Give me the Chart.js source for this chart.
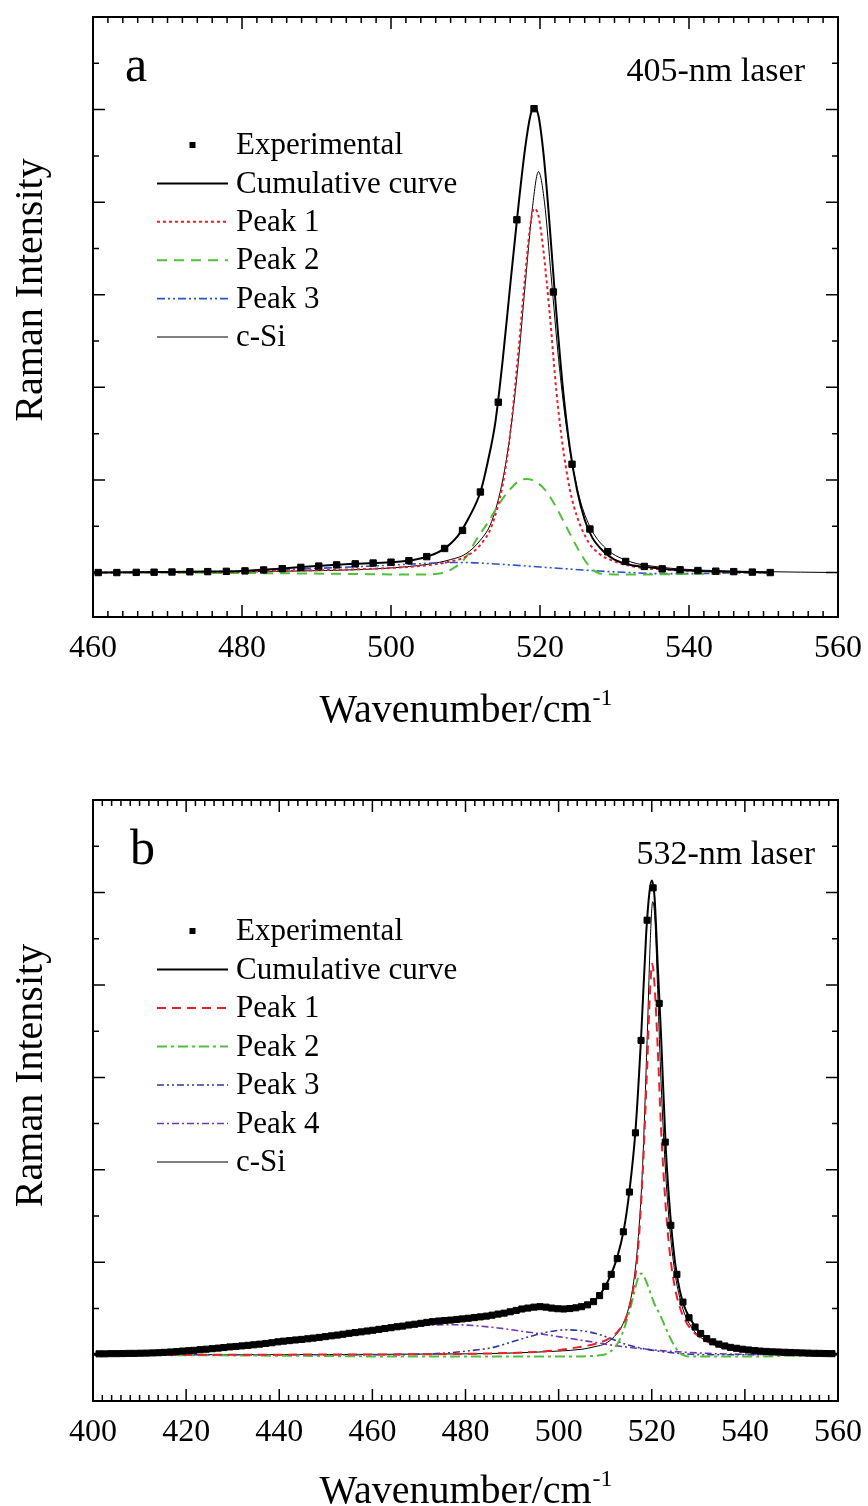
<!DOCTYPE html>
<html>
<head>
<meta charset="utf-8">
<title>Raman spectra a/b</title>
<script src="https://cdn.jsdelivr.net/npm/chart.js@4.4.1/dist/chart.umd.min.js"></script>
<style>
  html, body { margin: 0; padding: 0; background: #fff; }
  #wrap { position: relative; width: 868px; height: 1506px; }
  canvas { position: absolute; left: 0; }
  #chartA { top: 0; }
  #chartB { top: 760px; }
</style>
</head>
<body>
<div id="wrap">
  <canvas id="chartA" width="868" height="745"></canvas>
  <canvas id="chartB" width="868" height="746"></canvas>
</div>
<script>
// ---------- panel a : 405-nm laser ----------
const ticksA = [460, 480, 500, 520, 540, 560];
const labelsA = ['Experimental', 'Cumulative curve', 'Peak 1', 'Peak 2', 'Peak 3', 'c-Si'];

const expXA = [460.7, 463.2, 465.8, 468.2, 470.6, 473.0, 475.4, 477.9, 480.4, 482.9, 485.4, 487.9, 490.3, 492.7,
  495.2, 497.6, 500.0, 502.4, 504.8, 507.2, 509.6, 512.0, 514.4, 516.9, 519.2, 521.8, 524.3, 526.7, 529.1, 531.5,
  534.0, 536.4, 538.8, 541.2, 543.6, 546.0, 548.5, 550.9];
const expYA = [0.0, 0.0, 0.002, 0.004, 0.006, 0.008, 0.01, 0.013, 0.018, 0.028, 0.042, 0.056, 0.07, 0.083,
  0.094, 0.103, 0.112, 0.128, 0.172, 0.26, 0.455, 0.87, 1.84, 3.81, 5.01, 3.03, 1.17, 0.47, 0.225, 0.12,
  0.066, 0.04, 0.03, 0.022, 0.015, 0.01, 0.005, 0.0];

const cumXA = [460, 465, 470, 475, 480, 485, 490, 495, 500, 503, 505, 507, 509, 510.5, 512, 513, 514, 515, 516, 517,
  518, 518.7, 519.2, 519.8, 520.5, 521.2, 522, 523, 524, 525, 526, 527, 528.5, 530, 532, 534, 537, 540, 545, 551];
const cumYA = [0, 0.002, 0.006, 0.011, 0.018, 0.042, 0.07, 0.094, 0.112, 0.135, 0.176, 0.25, 0.40, 0.6, 0.87, 1.2,
  1.62, 2.3, 3.1, 3.88, 4.58, 4.93, 5.03, 4.93, 4.5, 3.85, 3.0, 2.05, 1.35, 0.88, 0.57, 0.38, 0.23, 0.14, 0.085,
  0.062, 0.037, 0.022, 0.01, 0.0];

const p1XA = [460, 480, 490, 500, 505, 508, 510, 512, 513.5, 515, 516, 517, 518, 518.7, 519.2, 519.8, 520.5, 521.3,
  522.2, 523, 524, 525, 526.5, 528, 530, 533, 537, 542, 551];
const p1YA = [0, 0.01, 0.025, 0.05, 0.08, 0.12, 0.17, 0.3, 0.5, 0.95, 1.5, 2.3, 3.2, 3.75, 3.93, 3.85, 3.45, 2.8,
  1.96, 1.4, 0.9, 0.6, 0.33, 0.2, 0.12, 0.06, 0.03, 0.015, 0.0];

const p2XA = [460, 480, 495, 500, 504, 506, 508, 510, 511.5, 513, 514.5, 516, 517.2, 518.2, 519.2, 520.5, 522, 523.5,
  525, 526.5, 528, 530, 535, 540, 551];
const p2YA = [0, -0.005, -0.015, -0.02, -0.02, -0.015, 0.03, 0.16, 0.36, 0.54, 0.74, 0.9, 0.99, 1.01, 0.99, 0.91,
  0.73, 0.5, 0.27, 0.08, -0.01, -0.02, -0.02, -0.015, 0.0];

const p3XA = [460, 470, 480, 485, 490, 495, 500, 505, 508, 510, 513, 516, 520, 524, 528, 532, 536, 540, 545, 551];
const p3YA = [0.0, 0.004, 0.015, 0.028, 0.045, 0.062, 0.08, 0.1, 0.108, 0.108, 0.098, 0.083, 0.06, 0.038, 0.016,
  0.0, -0.012, -0.012, -0.005, 0.0];

const siXA = [460, 480, 495, 500, 505, 508, 510, 512, 513.5, 515, 516, 517, 518, 519, 519.8, 520.6, 521.5, 522.5,
  523.5, 524.5, 525.5, 527, 529, 532, 536, 542, 550, 560];
const siYA = [0.0, 0.01, 0.03, 0.05, 0.09, 0.14, 0.2, 0.35, 0.55, 1.0, 1.5, 2.2, 3.1, 3.95, 4.33, 4.0, 3.2, 2.3,
  1.6, 1.1, 0.75, 0.45, 0.25, 0.12, 0.06, 0.025, 0.01, 0.0];

// ---------- panel b : 532-nm laser ----------
const ticksB = [400, 420, 440, 460, 480, 500, 520, 540, 560];
const labelsB = ['Experimental', 'Cumulative curve', 'Peak 1', 'Peak 2', 'Peak 3', 'Peak 4', 'c-Si'];

const expXB = [401.3, 402.5, 403.8, 405.1, 406.4, 407.7, 408.9, 410.2, 411.5, 412.8, 414.1, 415.3, 416.6, 417.9,
  419.2, 420.5, 421.7, 423.0, 424.3, 425.6, 426.9, 428.1, 429.4, 430.7, 432.0, 433.3, 434.5, 435.8, 437.1, 438.4,
  439.7, 440.9, 442.2, 443.5, 444.8, 446.1, 447.3, 448.6, 449.9, 451.2, 452.5, 453.7, 455.0, 456.3, 457.6, 458.9,
  460.1, 461.4, 462.7, 464.0, 465.3, 466.5, 467.8, 469.1, 470.4, 471.7, 472.9, 474.2, 475.5, 476.8, 478.1, 479.3,
  480.6, 481.9, 483.2, 484.5, 485.7, 487.0, 488.3, 489.6, 490.9, 492.1, 493.4, 494.7, 496.0, 497.3, 498.5, 499.8,
  501.1, 502.4, 503.7, 504.9, 506.2, 507.5, 508.8, 510.1, 511.3, 512.6, 513.9, 515.2, 516.5, 517.7, 519.0, 520.3,
  521.6, 522.9, 524.1, 525.4, 526.7, 528.0, 529.3, 530.5, 531.8, 533.1, 534.4, 535.7, 536.9, 538.2, 539.5, 540.8,
  542.1, 543.3, 544.6, 545.9, 547.2, 548.5, 549.7, 551.0, 552.3, 553.6, 554.9, 556.1, 557.4, 558.7];
const expYB = [0.01, 0.01, 0.012, 0.012, 0.013, 0.015, 0.015, 0.017, 0.018, 0.02, 0.022, 0.026, 0.03, 0.034,
  0.04, 0.044, 0.048, 0.055, 0.06, 0.066, 0.072, 0.078, 0.085, 0.09, 0.096, 0.102, 0.108, 0.115, 0.122, 0.13,
  0.14, 0.147, 0.153, 0.16, 0.166, 0.173, 0.18, 0.188, 0.196, 0.205, 0.213, 0.222, 0.232, 0.24, 0.248, 0.257,
  0.265, 0.275, 0.284, 0.293, 0.303, 0.31, 0.322, 0.33, 0.34, 0.35, 0.358, 0.365, 0.37, 0.375, 0.382, 0.388,
  0.395, 0.402, 0.41, 0.418, 0.428, 0.44, 0.45, 0.465, 0.48, 0.495, 0.505, 0.515, 0.52, 0.515, 0.505, 0.498,
  0.495, 0.5, 0.508, 0.52, 0.54, 0.575, 0.64, 0.74, 0.87, 1.04, 1.33, 1.76, 2.4, 3.4, 4.7, 5.05,
  3.8, 2.3, 1.4, 0.87, 0.57, 0.4, 0.3, 0.23, 0.175, 0.14, 0.115, 0.095, 0.08, 0.07, 0.06, 0.052,
  0.046, 0.04, 0.036, 0.032, 0.03, 0.027, 0.025, 0.022, 0.02, 0.018, 0.016, 0.015, 0.013, 0.012];

const cumXB = [400, 410, 420, 430, 440, 450, 460, 470, 480, 485, 490, 493, 496, 500, 503, 505, 507, 509, 511, 512.5,
  514, 515.2, 516.5, 517.7, 518.8, 519.5, 520.0, 520.6, 521.3, 522, 523, 524, 525, 526, 527, 528.5, 530, 532, 535,
  540, 545, 550, 555, 560];
const cumYB = [0.01, 0.017, 0.043, 0.088, 0.143, 0.197, 0.265, 0.337, 0.392, 0.422, 0.472, 0.502, 0.515, 0.497,
  0.505, 0.522, 0.565, 0.66, 0.84, 1.04, 1.35, 1.77, 2.42, 3.42, 4.55, 5.0, 5.13, 4.95, 4.2, 3.45, 2.25, 1.5, 1.0,
  0.7, 0.52, 0.37, 0.26, 0.175, 0.1, 0.055, 0.035, 0.023, 0.016, 0.01];

const p1XB = [400, 470, 480, 490, 495, 500, 504, 508, 511, 513, 514.5, 516, 517, 518, 519, 519.6, 520.1, 520.6,
  521.3, 522, 523, 524, 525, 526, 527, 528.5, 530, 532, 535, 540, 545, 550, 560];
const p1YB = [0, 0.005, 0.01, 0.02, 0.03, 0.05, 0.08, 0.12, 0.18, 0.27, 0.4, 0.7, 1.1, 1.9, 3.1, 3.9, 4.23, 4.0,
  3.3, 2.45, 1.6, 1.05, 0.72, 0.52, 0.39, 0.27, 0.2, 0.14, 0.085, 0.045, 0.028, 0.018, 0.008];

const p2XB = [400, 440, 470, 500, 508, 511, 513, 514.5, 516, 517, 517.8, 518.6, 519.5, 520.5, 521.8, 523, 524.6,
  526, 527.5, 530, 540, 550, 560];
const p2YB = [0, -0.01, -0.02, -0.02, -0.01, 0.03, 0.15, 0.35, 0.62, 0.82, 0.88, 0.82, 0.7, 0.56, 0.43, 0.29, 0.12,
  0.02, -0.015, -0.02, -0.02, -0.01, 0];

const p3XB = [400, 460, 470, 476, 482, 486, 490, 494, 498, 502, 505, 508, 511, 514, 517, 520, 523, 527, 532, 560];
const p3YB = [0, 0, 0.005, 0.02, 0.05, 0.08, 0.14, 0.2, 0.25, 0.27, 0.26, 0.23, 0.18, 0.12, 0.08, 0.05, 0.03, 0.01,
  0.0, 0];

const p4XB = [400, 410, 420, 430, 440, 450, 460, 467, 472, 477, 482, 487, 492, 497, 502, 507, 512, 517, 522, 527,
  532, 540, 550, 560];
const p4YB = [0.01, 0.017, 0.043, 0.085, 0.14, 0.195, 0.26, 0.3, 0.32, 0.325, 0.315, 0.29, 0.255, 0.22, 0.18, 0.14,
  0.1, 0.07, 0.045, 0.028, 0.015, 0.005, 0.0, 0];

const siXB = [400, 480, 500, 505, 508, 510, 512, 513.5, 515, 516, 517, 518, 519, 519.7, 520.2, 520.7, 521.3, 522,
  523, 524, 525, 526, 527, 528.5, 530, 532, 535, 540, 545, 550, 560];
const siYB = [0, 0.01, 0.04, 0.06, 0.09, 0.12, 0.2, 0.3, 0.5, 0.75, 1.2, 2.0, 3.4, 4.5, 4.9, 4.7, 3.9, 2.95, 1.95,
  1.3, 0.88, 0.62, 0.45, 0.3, 0.21, 0.14, 0.08, 0.04, 0.025, 0.015, 0.005];

// ---------- helpers ----------
const serif = '"Liberation Serif", "Times New Roman", serif';
const RED = '#e8202a', GREEN = '#52bf3c', BLUE_A = '#2a55c8', BLUE_B = '#2b3b9e', PURPLE = '#7434b4';

function pts(xs, ys) {
  return xs.map((x, i) => ({ x: x, y: ys[i] }));
}

function markers(label, xs, ys, r) {
  return {
    label: label, data: pts(xs, ys), showLine: false,
    pointStyle: 'rect', pointRadius: r, pointHoverRadius: r,
    backgroundColor: '#000', borderColor: '#000', borderWidth: 1
  };
}

function curve(label, xs, ys, color, width, dash) {
  return {
    label: label, data: pts(xs, ys), showLine: true,
    borderColor: color, borderWidth: width, borderDash: dash || [],
    pointRadius: 0, pointHoverRadius: 0, fill: false,
    cubicInterpolationMode: 'monotone'
  };
}

// inward ticks, frame, legend and in-plot texts
const decor = {
  id: 'decor',
  afterDatasetsDraw(chart, args, o) {
    const { ctx, chartArea: a } = chart;
    const x = chart.scales.x, y = chart.scales.y;
    ctx.save();
    ctx.strokeStyle = '#000';
    ctx.lineWidth = 1.5;
    ctx.beginPath();
    x.ticks.forEach(t => {
      const px = x.getPixelForValue(t.value);
      const len = t.value % 20 === 0 ? 12 : 6;
      ctx.moveTo(px, a.bottom); ctx.lineTo(px, a.bottom - len);
      ctx.moveTo(px, a.top); ctx.lineTo(px, a.top + len);
    });
    y.ticks.forEach(t => {
      if (t.value < 0) return;
      const py = y.getPixelForValue(t.value);
      const len = Number.isInteger(t.value) ? 12 : 6;
      ctx.moveTo(a.left, py); ctx.lineTo(a.left + len, py);
      ctx.moveTo(a.right, py); ctx.lineTo(a.right - len, py);
    });
    ctx.stroke();
    ctx.lineWidth = 2;
    ctx.strokeRect(a.left, a.top, a.right - a.left, a.bottom - a.top);

    // legend
    ctx.font = '31px ' + serif;
    ctx.textBaseline = 'middle';
    ctx.textAlign = 'left';
    ctx.fillStyle = '#000';
    chart.data.datasets.forEach((ds, i) => {
      const ry = a.top + o.legendTop + i * o.rowGap;
      const x0 = a.left + 64, x1 = a.left + 135;
      if (ds.showLine === false) {
        ctx.fillRect((x0 + x1) / 2 - 3, ry - 3, 6, 6);
      } else {
        ctx.save();
        ctx.strokeStyle = ds.borderColor;
        ctx.lineWidth = ds.borderWidth;
        ctx.setLineDash(ds.borderDash);
        ctx.beginPath();
        ctx.moveTo(x0, ry); ctx.lineTo(x1, ry);
        ctx.stroke();
        ctx.restore();
      }
      ctx.fillText(ds.label, a.left + 143, ry + 1);
    });

    // panel letter and laser note
    ctx.textBaseline = 'alphabetic';
    ctx.font = '50px ' + serif;
    ctx.fillText(o.letter, a.left + o.letterDx, a.top + 64);
    ctx.font = '34px ' + serif;
    ctx.textAlign = 'right';
    ctx.fillText(o.note, a.right - o.noteDx, a.top + 64);
    ctx.restore();
  },
  afterDraw(chart, args, o) {
    const { ctx, chartArea: a } = chart;
    ctx.save();
    ctx.fillStyle = '#000';
    ctx.textBaseline = 'alphabetic';
    // x title with superscript
    const main = 'Wavenumber/cm', sup = '-1';
    ctx.font = '40px ' + serif;
    const wMain = ctx.measureText(main).width;
    ctx.font = '24px ' + serif;
    const wSup = ctx.measureText(sup).width;
    const xs = (a.left + a.right) / 2 - (wMain + wSup) / 2;
    const base = a.bottom + o.titleDy;
    ctx.font = '40px ' + serif;
    ctx.textAlign = 'left';
    ctx.fillText(main, xs, base);
    ctx.font = '24px ' + serif;
    ctx.fillText(sup, xs + wMain + 1, base - 17);
    // y title
    ctx.font = '40px ' + serif;
    ctx.translate(42, (a.top + a.bottom) / 2 - o.yTitleUp);
    ctx.rotate(-Math.PI / 2);
    ctx.textAlign = 'center';
    ctx.fillText('Raman Intensity', 0, 0);
    ctx.restore();
  }
};

function makeChart(id, datasets, cfg) {
  return new Chart(document.getElementById(id), {
    type: 'scatter',
    data: { datasets: datasets },
    options: {
      responsive: false,
      animation: false,
      devicePixelRatio: 1,
      layout: { padding: { left: 0, right: 30, top: cfg.top, bottom: 0 } },
      scales: {
        x: {
          type: 'linear', min: cfg.xmin, max: cfg.xmax,
          grid: { display: false, drawTicks: false },
          border: { display: false },
          ticks: {
            stepSize: 2, autoSkip: false, maxRotation: 0, padding: cfg.labelPad,
            color: '#000', font: { family: serif, size: 32 },
            callback: v => (cfg.tickLabels.includes(v) ? String(v) : '')
          },
          afterFit: s => {
            s.height = cfg.xHeight;
            // edge labels fit in the fixed margins, so no extra side padding
            s.paddingLeft = 0;
            s.paddingRight = 0;
          }
        },
        y: {
          min: cfg.ymin, max: 6,
          grid: { display: false, drawTicks: false },
          border: { display: false },
          ticks: { stepSize: 0.5, display: false },
          afterFit: s => { s.width = 93; }
        }
      },
      plugins: {
        legend: { display: false },
        tooltip: { enabled: false },
        decor: cfg.decor
      }
    },
    plugins: [decor]
  });
}

makeChart('chartA', [
  markers(labelsA[0], expXA, expYA, 4.5),
  curve(labelsA[1], cumXA, cumYA, '#000', 2),
  curve(labelsA[2], p1XA, p1YA, RED, 2, [3, 3]),
  curve(labelsA[3], p2XA, p2YA, GREEN, 2, [10, 7]),
  curve(labelsA[4], p3XA, p3YA, BLUE_A, 1.6, [8, 3, 2, 3, 2, 3]),
  curve(labelsA[5], siXA, siYA, '#000', 1)
], {
  top: 17, xmin: 460, xmax: 560, ymin: -0.48, xHeight: 128, labelPad: 12, tickLabels: ticksA,
  decor: { legendTop: 128, rowGap: 38.4, letter: 'a', letterDx: 32, note: '405-nm laser', noteDx: 33,
    titleDy: 105, yTitleUp: 27 }
});

makeChart('chartB', [
  markers(labelsB[0], expXB, expYB, 4.3),
  curve(labelsB[1], cumXB, cumYB, '#000', 2),
  curve(labelsB[2], p1XB, p1YB, RED, 2, [9, 6]),
  curve(labelsB[3], p2XB, p2YB, GREEN, 2, [10, 4, 3, 4]),
  curve(labelsB[4], p3XB, p3YB, BLUE_B, 1.6, [7, 3, 2, 3, 2, 3]),
  curve(labelsB[5], p4XB, p4YB, PURPLE, 1.6, [7, 3, 2, 3]),
  curve(labelsB[6], siXB, siYB, '#000', 1)
], {
  top: 40, xmin: 400, xmax: 560, ymin: -0.5, xHeight: 105, labelPad: 12, tickLabels: ticksB,
  decor: { legendTop: 131, rowGap: 38.5, letter: 'b', letterDx: 37, note: '532-nm laser', noteDx: 23,
    titleDy: 102, yTitleUp: 25 }
});
</script>
</body>
</html>
